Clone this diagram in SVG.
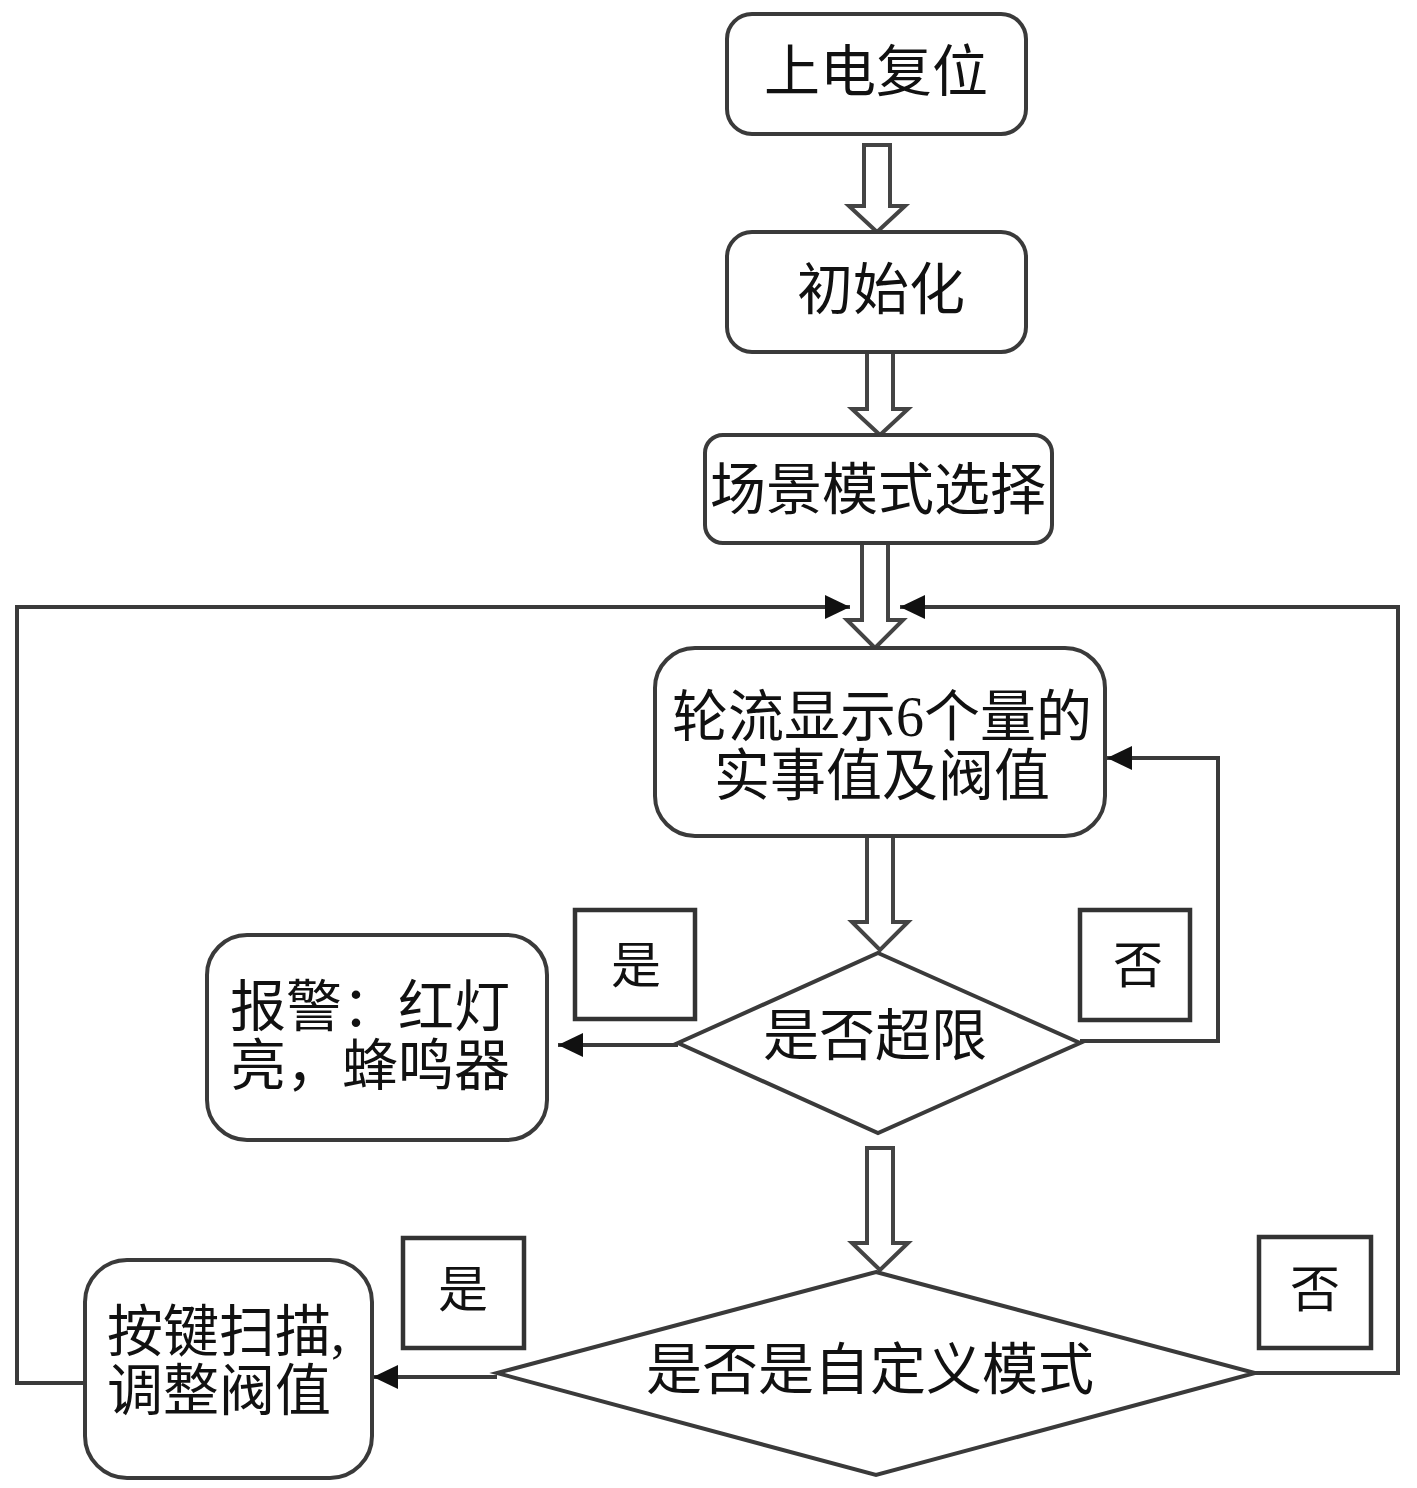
<svg xmlns="http://www.w3.org/2000/svg" width="1417" height="1488" viewBox="0 0 1417 1488">
<style>
.box{fill:#fff;stroke:#3a3a3a;stroke-width:4}
.lbl{fill:#fff;stroke:#333;stroke-width:4.5}
.ln{fill:none;stroke:#3a3a3a;stroke-width:4}
.ha{fill:#fff;stroke:#444;stroke-width:4;stroke-linejoin:miter}
text{font-family:"Liberation Serif","Noto Sans CJK SC",serif;fill:#111;dominant-baseline:central}
.t{font-size:56px;text-anchor:middle}
.tl{font-size:56px;text-anchor:start}
.s{font-size:50px;text-anchor:middle}
</style>
<defs>
<marker id="ah" markerUnits="userSpaceOnUse" markerWidth="26" markerHeight="26" refX="25" refY="12" orient="auto">
<path d="M0,0 L25,12 L0,24 z" fill="#111"/>
</marker>
</defs>
<rect width="1417" height="1488" fill="#fff"/>
<g id="connectors">
<path class="ln" d="M85 1383 H17 V607 H850" marker-end="url(#ah)"/>
<path class="ln" d="M1255 1373 H1398 V607 H900" marker-end="url(#ah)"/>
<path class="ln" d="M1080 1041 H1218 V758 H1107" marker-end="url(#ah)"/>
<path class="ln" d="M678 1045 H558" marker-end="url(#ah)"/>
<path class="ln" d="M497 1377 H373" marker-end="url(#ah)"/>
<polygon class="ha" points="864,145 890,145 890,206 905,206 877,232 849,206 864,206"/>
<polygon class="ha" points="867,352 893,352 893,409 908,409 880,435 852,409 867,409"/>
<polygon class="ha" points="862,543 888,543 888,620 903,620 875,648 847,620 862,620"/>
<polygon class="ha" points="867,836 893,836 893,922 908,922 880,950 852,922 867,922"/>
<polygon class="ha" points="867,1148 893,1148 893,1243 908,1243 880,1270 852,1243 867,1243"/>
</g>
<g id="n1"><rect class="box" x="727" y="14" width="299" height="120" rx="25"/><text class="t" x="876" y="72">上电复位</text></g>
<g id="n2"><rect class="box" x="727" y="232" width="299" height="120" rx="25"/><text class="t" x="881" y="290">初始化</text></g>
<g id="n3"><rect class="box" x="705" y="435" width="347" height="108" rx="18"/><text class="t" x="878" y="490">场景模式选择</text></g>
<g id="n4"><rect class="box" x="655" y="648" width="450" height="188" rx="40"/><text class="t" x="882" y="717">轮流显示6个量的</text><text class="t" x="882" y="776">实事值及阀值</text></g>
<g id="d1"><polygon class="box" points="878,953 1080,1043 878,1133 678,1043"/><text class="t" x="875" y="1036">是否超限</text></g>
<g id="n5"><rect class="box" x="207" y="935" width="340" height="205" rx="40"/><text class="tl" x="230" y="1007">报警：红灯</text><text class="tl" x="230" y="1066">亮，蜂鸣器</text></g>
<g id="d2"><polygon class="box" points="876,1272 1255,1373 876,1475 497,1373"/><text class="t" x="870" y="1370">是否是自定义模式</text></g>
<g id="n6"><rect class="box" x="85" y="1260" width="287" height="218" rx="42"/><text class="tl" x="107" y="1332">按键扫描,</text><text class="tl" x="107" y="1391">调整阀值</text></g>
<g id="l1"><rect class="lbl" x="575" y="910" width="120" height="109"/><text class="s" x="636" y="966">是</text></g>
<g id="l2"><rect class="lbl" x="1080" y="910" width="110" height="110"/><text class="s" x="1138" y="966">否</text></g>
<g id="l3"><rect class="lbl" x="403" y="1238" width="121" height="110"/><text class="s" x="463" y="1290">是</text></g>
<g id="l4"><rect class="lbl" x="1259" y="1237" width="112" height="111"/><text class="s" x="1315" y="1290">否</text></g>
</svg>
